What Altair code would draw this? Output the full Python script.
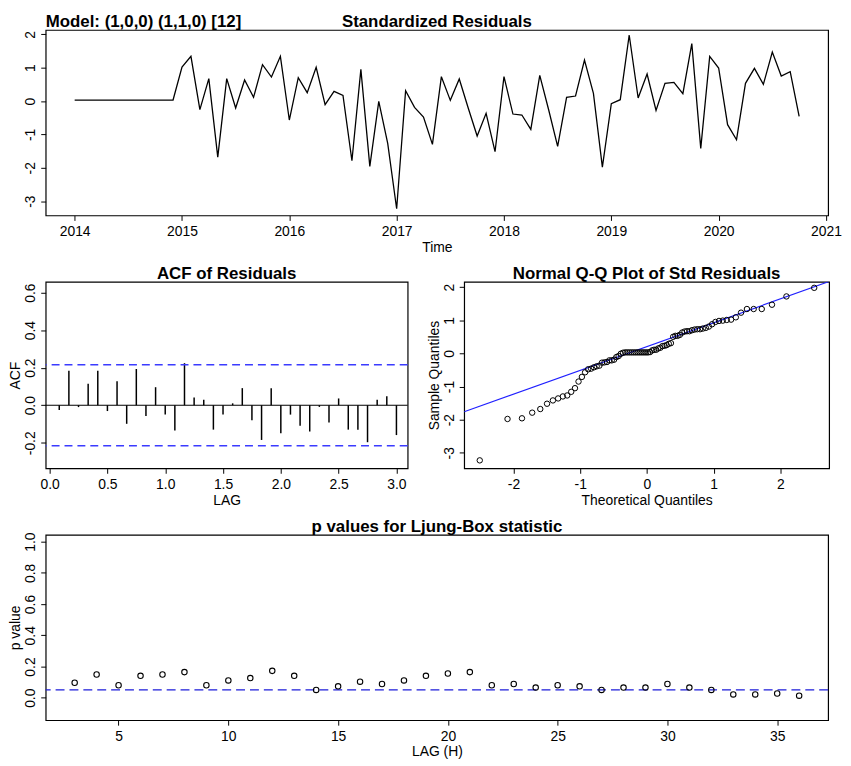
import altair as alt
import numpy as np
import pandas as pd

FONT = "Liberation Sans"
MODEL_LABEL = "Model: (1,0,0) (1,1,0) [12]"
TITLES = ["Standardized Residuals", "ACF of Residuals",
          "Normal Q-Q Plot of Std Residuals", "p values for Ljung-Box statistic"]

# ---- standardized residuals (monthly, Jan 2014 .. Oct 2020) ----
START_YEAR = 2014
resid = [
    0.03, 0.03, 0.03, 0.03, 0.03, 0.03, 0.03, 0.03, 0.03, 0.03, 0.03, 0.03,
    1.02, 1.34, -0.26, 0.67, -1.68, 0.67, -0.21, 0.63, 0.11, 1.09, 0.72, 1.34,
    -0.57, 0.70, 0.25, 1.01, -0.11, 0.29, 0.17, -1.79, 0.95, -1.96, -0.01, -1.27,
    -3.23, 0.31, -0.19, -0.48, -1.30, 0.73, 0.02, 0.66, -0.21, -1.05, -0.37, -1.52,
    0.73, -0.39, -0.42, -0.85, 0.77, -0.27, -1.36, 0.11, 0.15, 1.23, 0.23, -1.98,
    -0.08, 0.04, 1.98, 0.09, 0.81, -0.28, 0.53, 0.56, 0.22, 1.72, -1.42, 1.34,
    0.99, -0.71, -1.16, 0.53, 0.98, 0.50, 1.47, 0.75, 0.88, -0.46,
]
times = [START_YEAR + i / 12 for i in range(len(resid))]

# ---- ACF of residuals, lags 1..36 (in years) ----
acf_vals = [
    -0.026, 0.183, -0.010, 0.115, 0.183, -0.031, 0.128, -0.099, 0.193, -0.058,
    0.096, -0.050, -0.135, 0.224, 0.041, 0.029, -0.130, -0.050, 0.010, 0.091,
    -0.080, -0.185, 0.091, -0.149, -0.050, -0.109, -0.140, -0.009, -0.092, 0.036,
    -0.130, -0.130, -0.197, 0.029, 0.048, -0.159,
]
acf_lags = [k / 12 for k in range(1, len(acf_vals) + 1)]
ACF_BOUND = 0.216

# ---- Ljung-Box p values ----
lb_lags = list(range(3, 37))
lb_p = [
    0.096, 0.149, 0.080, 0.140, 0.149, 0.164, 0.080, 0.111, 0.126, 0.172,
    0.140, 0.050, 0.073, 0.103, 0.088, 0.111, 0.140, 0.155, 0.164, 0.080,
    0.088, 0.065, 0.080, 0.073, 0.050, 0.065, 0.065, 0.088, 0.065, 0.050,
    0.021, 0.021, 0.027, 0.013,
]
LB_LEVEL = 0.05

MINUS_FIX = "replace(datum.label, '\u2212', '-')"
TITLE_OFF = 3

df_res = pd.DataFrame({"t": times, "r": resid})
df_acf = pd.DataFrame({"lag": acf_lags, "acf": acf_vals})
df_lb = pd.DataFrame({"lag": lb_lags, "p": lb_p})


def yaxis(values, fmt, title, visible=True):
    return alt.Axis(values=values, format=fmt, title=title, labelAngle=-90,
                    labelAlign="center", labelBaseline="alphabetic",
                    labelPadding=6, titlePadding=1, labelExpr=MINUS_FIX,
                    titleOpacity=1 if visible else 0)


def xaxis(values, fmt, title):
    return alt.Axis(values=values, format=fmt, title=title, labelAngle=0,
                    labelPadding=4, titlePadding=2, labelExpr=MINUS_FIX)


def title_mark(text, width, align="center", x=None):
    return alt.Chart(pd.DataFrame({"label": [text]})).mark_text(
        align=align, baseline="alphabetic", font=FONT, fontSize=17,
        fontWeight="bold", color="black"
    ).encode(text="label:N", x=alt.value(width / 2 if x is None else x),
             y=alt.value(-TITLE_OFF))


# ---------------- top panel ----------------
W_TOP, H_ROW = 789, 187
tx = alt.X("t:Q", scale=alt.Scale(domain=[2013.73, 2021.02], nice=False, zero=False),
           axis=xaxis(list(range(2014, 2022)), "d", "Time"))
ty = alt.Y("r:Q", scale=alt.Scale(domain=[-3.43, 2.13], nice=False, zero=False),
           axis=yaxis([-3, -2, -1, 0, 1, 2], "d", "ACF", visible=False))
top_line = alt.Chart(df_res).mark_line(color="black", strokeWidth=1.3).encode(x=tx, y=ty)
top = alt.layer(
    top_line,
    title_mark(MODEL_LABEL, W_TOP, align="left", x=0),
    title_mark(TITLES[0], W_TOP),
).properties(width=W_TOP, height=H_ROW)

# ---------------- ACF panel ----------------
W_ACF = 365
ax = alt.X("lag:Q", scale=alt.Scale(domain=[-0.034, 3.097], nice=False, zero=False),
           axis=xaxis([0, 0.5, 1, 1.5, 2, 2.5, 3], ".1f", "LAG"))
ay = alt.Y("acf:Q", scale=alt.Scale(domain=[-0.336, 0.657], nice=False, zero=False),
           axis=yaxis([-0.2, 0, 0.2, 0.4, 0.6], ".1f", "ACF"))
acf_bars = alt.Chart(df_acf).mark_rule(color="black", strokeWidth=1.5).encode(
    x=ax, y=ay, y2=alt.datum(0))
acf_zero = alt.Chart(pd.DataFrame({"acf": [0.0]})).mark_rule(
    color="black", strokeWidth=1.2).encode(y=ay)
acf_bounds = alt.Chart(pd.DataFrame({"acf": [ACF_BOUND, -ACF_BOUND]})).mark_rule(
    color="#3b3bff", strokeDash=[8, 5], strokeWidth=1.5).encode(y=ay)
acf_chart = alt.layer(acf_bars, acf_zero, acf_bounds, title_mark(TITLES[1], W_ACF)).properties(
    width=W_ACF, height=H_ROW + 1)

# ---------------- Q-Q panel ----------------
W_QQ = 368
QQ_X = [-2.74, 2.73]
qx = alt.X("theo:Q", scale=alt.Scale(domain=QQ_X, nice=False, zero=False),
           axis=xaxis([-2, -1, 0, 1, 2], "d", "Theoretical Quantiles"))
qy = alt.Y("r:Q", scale=alt.Scale(domain=[-3.47, 2.16], nice=False, zero=False),
           axis=yaxis([-3, -2, -1, 0, 1, 2], "d", "Sample Quantiles"))
qq_pts = alt.Chart(df_res).transform_window(
    rank="row_number()", sort=[alt.SortField("r", order="ascending")]
).transform_joinaggregate(n="count()").transform_calculate(
    theo="quantileNormal((datum.rank - 0.5) / datum.n)"
).mark_point(shape="circle", filled=False, color="black", size=30,
             strokeWidth=1, opacity=1).encode(x=qx, y=qy)

q25, q75 = np.quantile(np.array(resid), [0.25, 0.75])
z75 = 0.6744897501960817
slope = (q75 - q25) / (2 * z75)
intercept = q25 + slope * z75
qq_line_df = pd.DataFrame({"theo": QQ_X, "r": [intercept + slope * v for v in QQ_X]})
qq_line = alt.Chart(qq_line_df).mark_line(color="#2020ff", strokeWidth=1.2, clip=True).encode(
    x=qx, y=qy)
qq_chart = alt.layer(qq_line, qq_pts, title_mark(TITLES[2], W_QQ)).properties(
    width=W_QQ, height=H_ROW + 1)

# ---------------- Ljung-Box panel ----------------
lx = alt.X("lag:Q", scale=alt.Scale(domain=[1.68, 37.32], nice=False, zero=False),
           axis=xaxis([5, 10, 15, 20, 25, 30, 35], "d", "LAG (H)"))
ly = alt.Y("p:Q", scale=alt.Scale(domain=[-0.144, 1.044], nice=False, zero=False),
           axis=yaxis([0, 0.2, 0.4, 0.6, 0.8, 1.0], ".1f", "p value"))
lb_pts = alt.Chart(df_lb).mark_point(shape="circle", filled=False, color="black",
                                     size=30, strokeWidth=1.1, opacity=1).encode(x=lx, y=ly)
lb_line = alt.Chart(pd.DataFrame({"p": [LB_LEVEL]})).mark_rule(
    color="#1c1cd9", strokeDash=[9, 5], strokeWidth=1.3).encode(y=ly)
bottom = alt.layer(lb_line, lb_pts, title_mark(TITLES[3], W_TOP)).properties(
    width=W_TOP, height=H_ROW)

middle = alt.hconcat(acf_chart, qq_chart, spacing=57, bounds="flush")
chart = alt.vconcat(top, middle, bottom, spacing=9).properties(
    padding={"left": 0, "top": 1, "right": 0, "bottom": 0}
).configure_axis(
    labelFont=FONT, labelFontSize=14, labelColor="black",
    titleFont=FONT, titleFontSize=14, titleFontWeight="normal", titleColor="black",
    tickColor="black", tickSize=5, tickWidth=1, grid=False, domain=False,
).configure_view(stroke="black", strokeWidth=1.2)

chart.save("out.html", embed_options={"renderer": "svg", "actions": False})
